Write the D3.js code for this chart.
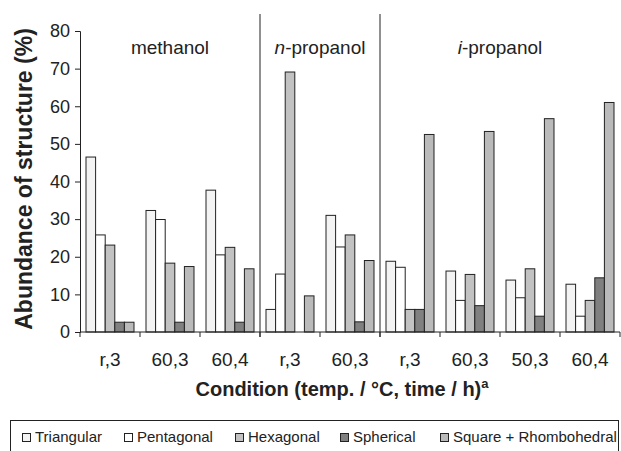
<!DOCTYPE html>
<html><head><meta charset="utf-8">
<script src="https://cdn.jsdelivr.net/npm/d3@7"></script>
<style>body{margin:0;background:#fff}svg{display:block;font-family:"Liberation Sans",Arial,sans-serif}</style>
</head><body><svg id="c" width="621" height="451"></svg>
<script>
const categories = ["r,3","60,3","60,4","r,3","60,3","r,3","60,3","50,3","60,4"];
const series = ["Triangular","Pentagonal","Hexagonal","Spherical","Square + Rhombohedral"];
const triangular = [46.5,32.3,37.7,6.0,31.0,18.8,16.2,13.8,12.7];
const pentagonal = [25.8,29.9,20.5,15.4,22.6,17.2,8.4,9.1,4.2];
const hexagonal  = [23.1,18.3,22.5,69.1,25.8,6.0,15.3,16.8,8.4];
const spherical  = [2.6,2.6,2.6,0,2.7,6.0,7.0,4.2,14.4];
const squareRh   = [2.6,17.4,16.8,9.6,19.0,52.5,53.3,56.7,61.0];
const groups = [{name:"methanol",start:0,end:3,italic:null},{name:"n-propanol",start:3,end:5,italic:"n"},{name:"i-propanol",start:5,end:9,italic:"i"}];
const yTicks = [0,10,20,30,40,50,60,70,80];
const colors = ["#f3f3f3","#ffffff","#c2c2c2","#808080","#bababa"];

const values = [triangular,pentagonal,hexagonal,spherical,squareRh];
const svg = d3.select("#c");
const L=80,R=620,T=31,B=332;
const idx = d3.range(categories.length);
const x0 = d3.scaleBand().domain(idx).range([L,R]).paddingInner(0.2).paddingOuter(0.1);
const x1 = d3.scaleBand().domain(d3.range(series.length)).range([0,x0.bandwidth()]);
const y = d3.scaleLinear().domain([0,80]).range([B,T]);
const step = x0.step();

// bars
idx.forEach(i=>{
  series.forEach((s,j)=>{
    const v = values[j][i];
    if(v<=0) return;
    svg.append("rect").attr("x",x0(i)+x1(j)).attr("y",y(v)).attr("width",x1.bandwidth()).attr("height",B-y(v))
      .attr("fill",colors[j]).attr("stroke","#222").attr("stroke-width",1);
  });
});

// dividers
groups.slice(1).forEach(g=>{
  const xv = L + g.start*step;
  svg.append("line").attr("x1",xv).attr("x2",xv).attr("y1",14).attr("y2",B+5).attr("stroke","#222").attr("stroke-width",1);
});

// y axis
const ya = svg.append("g").attr("transform",`translate(${L},0)`).call(d3.axisLeft(y).tickValues(yTicks).tickSize(5).tickPadding(5));
ya.select(".domain").attr("stroke","#222");
ya.selectAll("line").attr("stroke","#222");
ya.selectAll("text").attr("font-size",18).attr("fill","#222").attr("font-family","Liberation Sans, Arial, sans-serif");

// x axis
svg.append("line").attr("x1",L).attr("x2",R).attr("y1",B).attr("y2",B).attr("stroke","#222");
d3.range(categories.length+1).forEach(k=>{
  const xv=L+k*step;
  svg.append("line").attr("x1",xv).attr("x2",xv).attr("y1",B).attr("y2",B+5).attr("stroke","#222");
});
idx.forEach(i=>{
  svg.append("text").attr("x",x0(i)+x0.bandwidth()/2).attr("y",366).attr("text-anchor","middle")
    .attr("font-size",19).attr("fill","#222").text(categories[i]);
});

// group labels
groups.forEach(g=>{
  const cx = L + (g.start+g.end)/2*step;
  const t = svg.append("text").attr("x",cx).attr("y",54).attr("text-anchor","middle").attr("font-size",19).attr("fill","#222");
  if(g.italic){
    t.append("tspan").attr("font-style","italic").text(g.italic);
    t.append("tspan").text(g.name.slice(g.italic.length));
  } else t.text(g.name);
});

// axis titles
svg.append("text").attr("transform","translate(32,179) rotate(-90)").attr("text-anchor","middle")
  .attr("font-size",23).attr("font-weight","bold").attr("fill","#222").text("Abundance of structure (%)");
const xt = svg.append("text").attr("x",342).attr("y",396).attr("text-anchor","middle").attr("font-size",20).attr("font-weight","bold").attr("fill","#222");
xt.append("tspan").text("Condition (temp. / °C, time / h)");
xt.append("tspan").attr("font-size",13).attr("dy",-8).text("a");

// legend
svg.append("rect").attr("x",10.5).attr("y",420.5).attr("width",608).attr("height",34).attr("fill","none").attr("stroke","#222");
const legX = [22,124,235,340,440];
series.forEach((s,j)=>{
  svg.append("rect").attr("x",legX[j]+0.5).attr("y",433.5).attr("width",8).attr("height",8).attr("fill",colors[j]).attr("stroke","#222");
  svg.append("text").attr("x",legX[j]+13).attr("y",442).attr("font-size",15).attr("fill","#222").text(s);
});
</script></body></html>
